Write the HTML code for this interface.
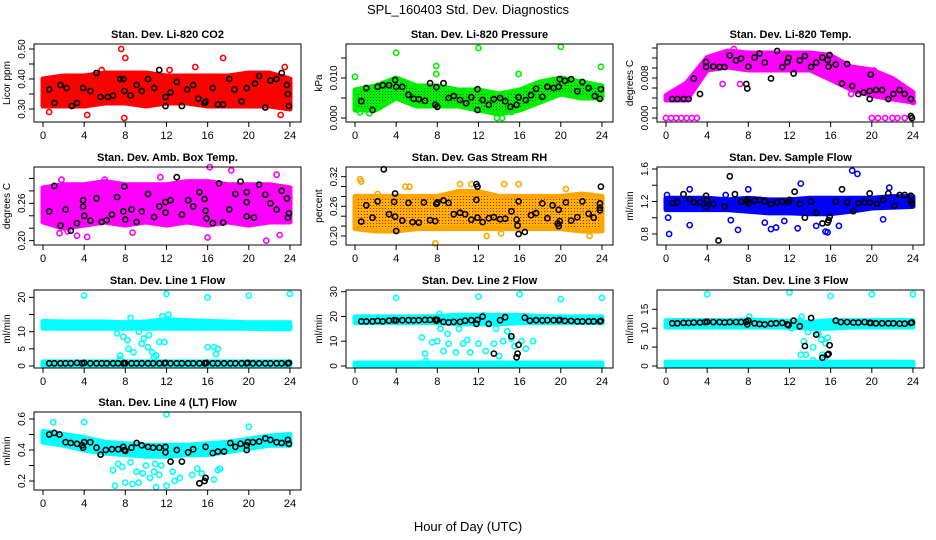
<!DOCTYPE html>
<html><head><meta charset="utf-8">
<style>
html,body{margin:0;padding:0;background:#fff;}
svg{display:block;font-family:"Liberation Sans",sans-serif;}
</style></head>
<body>
<svg id="chart" width="936" height="540" viewBox="0 0 936 540">
<defs>
<pattern id="dotRed" width="3" height="3" patternUnits="userSpaceOnUse"><rect width="3" height="3" fill="#ffb400"/><rect x="1" y="1" width="1" height="1" fill="#ff0000"/></pattern>
<pattern id="dotGreen" width="3" height="3" patternUnits="userSpaceOnUse"><rect width="3" height="3" fill="#00ee00"/><rect x="1" y="1" width="1" height="1" fill="#006600"/></pattern>
</defs>
<text x="468" y="14" text-anchor="middle" font-size="13">SPL_160403  Std. Dev. Diagnostics</text>
<text x="468" y="531" text-anchor="middle" font-size="13">Hour of Day (UTC)</text>
</svg>
<script>
// ---------- data ----------
const hoursBand=[0,2,4,6,8,10,12,14,16,18,20,22,24];
const hoursBlack=[0.6,1.1,1.7,2.2,2.7,3.3,3.8,4.0,4.6,5.2,5.7,6.2,6.8,7.3,7.8,7.9,8.0,8.6,9.1,9.6,10.2,10.7,11.3,11.8,11.9,12.4,13.0,13.5,14.1,14.6,15.2,15.7,15.8,15.9,16.5,17.0,17.6,18.2,18.7,19.3,19.8,19.9,20.4,21.0,21.6,22.1,22.7,23.2,23.8,23.9];
const xTicks=[0,4,8,12,16,20,24];

const co2Lo=[0.31,0.31,0.31,0.32,0.32,0.31,0.32,0.32,0.31,0.31,0.31,0.31,0.30];
const co2Hi=[0.40,0.41,0.41,0.42,0.42,0.42,0.41,0.41,0.41,0.41,0.42,0.42,0.40];
const co2Out=[[7.6,0.50],[8,0.47],[4.3,0.28],[7.9,0.27],[0.6,0.29],[17.5,0.47],[23.1,0.28],[23.5,0.44],[5.7,0.43],[14.8,0.44],[0.1,0.33],[12.3,0.43]];
const co2Black=[[0.6,0.365],[1.1,0.32],[1.7,0.38],[2.3,0.37],[2.8,0.31],[3.3,0.32],[3.9,0.37],[4.6,0.36],[5.2,0.42],[5.6,0.34],[6.3,0.34],[6.8,0.345],[7.5,0.40],[7.8,0.40],[7.9,0.36],[8.5,0.345],[9.1,0.38],[9.6,0.36],[10.2,0.40],[10.8,0.37],[11.3,0.43],[11.9,0.31],[11.9,0.34],[12.4,0.355],[13.0,0.39],[13.5,0.31],[14.0,0.365],[14.6,0.38],[15.1,0.335],[15.7,0.32],[15.8,0.325],[16.5,0.37],[17.0,0.315],[17.5,0.315],[18.1,0.40],[18.6,0.365],[19.3,0.325],[19.8,0.37],[20.6,0.385],[21.0,0.41],[21.6,0.305],[22.1,0.395],[22.7,0.40],[23.2,0.42],[23.7,0.38],[23.8,0.35],[23.9,0.31]];

const presLo=[0.002,0.002,0.005,0.003,0.003,0.003,0.002,0.001,0.002,0.004,0.006,0.005,0.005];
const presHi=[0.007,0.008,0.010,0.008,0.008,0.007,0.007,0.006,0.007,0.009,0.010,0.009,0.008];
const presOut=[[0,0.0103],[4,0.0163],[7.9,0.013],[7.9,0.011],[12,0.0175],[20,0.0178],[23.9,0.0128],[13.8,0],[14.3,0],[15.9,0.011],[1.4,0.0012],[0.5,0.0014],[15.2,0.0015]];
const presBlack=[[0.6,0.0042],[1.1,0.0075],[1.7,0.002],[2.2,0.0078],[2.7,0.0082],[3.3,0.0082],[3.9,0.0095],[4.0,0.0078],[4.6,0.0078],[5.2,0.0058],[5.7,0.0048],[6.2,0.0047],[6.8,0.0043],[7.3,0.0087],[7.8,0.0033],[7.9,0.0077],[8.0,0.0028],[8.6,0.0087],[9.1,0.005],[9.6,0.0055],[10.2,0.0045],[10.8,0.0037],[11.3,0.0052],[11.9,0.002],[11.9,0.0072],[12.4,0.0045],[13.0,0.0033],[13.5,0.0047],[14.1,0.005],[14.6,0.0042],[15.1,0.0028],[15.7,0.0033],[15.9,0.0052],[16.6,0.0045],[17.1,0.0057],[17.6,0.0073],[18.2,0.0053],[18.7,0.0078],[19.3,0.0075],[19.8,0.0078],[19.9,0.0097],[20.4,0.0093],[21.0,0.0097],[21.6,0.0067],[22.1,0.0090],[22.7,0.0075],[23.3,0.0055],[23.8,0.0048],[23.9,0.0072]];

const tempLo=[0.0036,0.0036,0.0096,0.0102,0.0096,0.0096,0.0096,0.0096,0.0077,0.0057,0.0045,0.0038,0.0032];
const tempHi=[0.0045,0.0070,0.0121,0.0134,0.0130,0.0130,0.0130,0.0130,0.0125,0.0102,0.0096,0.0079,0.0051];
const tempOut=[[0,0],[0.5,0],[1,0],[1.5,0],[2,0],[2.5,0],[3,0],[20,0],[20.6,0],[21.3,0],[22,0],[22.5,0],[23.2,0],[23.9,0],[2.6,0.0075],[3.0,0.0085],[7.2,0.0068],[5.5,0.0068],[20.2,0.0095],[18.0,0.0048],[24,0.0032],[6.6,0.0138]];
const tempBlack=[[0.6,0.0038],[1.1,0.0038],[1.7,0.0038],[2.2,0.0038],[2.7,0.0079],[3.3,0.0048],[3.9,0.0102],[3.9,0.0112],[4.6,0.0103],[5.2,0.0102],[5.7,0.0102],[6.2,0.0125],[6.8,0.0115],[7.3,0.0119],[7.8,0.0068],[7.9,0.0059],[8.0,0.0103],[8.6,0.0121],[9.1,0.0129],[9.6,0.0111],[10.2,0.0079],[10.8,0.0134],[11.3,0.0102],[11.8,0.0112],[11.9,0.012],[12.4,0.0089],[13.0,0.0115],[13.5,0.0124],[14.1,0.0102],[14.6,0.0111],[15.2,0.0121],[15.7,0.0116],[15.8,0.0103],[15.9,0.0126],[16.5,0.0107],[17.1,0.0069],[17.6,0.0108],[18.1,0.0064],[18.7,0.0048],[19.2,0.0051],[19.8,0.0054],[19.8,0.0038],[19.9,0.0087],[20.4,0.0056],[21.0,0.0056],[21.6,0.0038],[22.1,0.0048],[22.7,0.0056],[23.2,0.0048],[23.8,0.0038],[23.9,0.0],[23.8,0.0004]];

const boxLo=[0.23,0.22,0.225,0.23,0.225,0.23,0.225,0.23,0.225,0.23,0.225,0.23,0.23];
const boxHi=[0.285,0.29,0.29,0.295,0.29,0.29,0.29,0.295,0.295,0.29,0.29,0.29,0.285];
const boxOut=[[1.6,0.212],[3.3,0.208],[4.3,0.206],[11.4,0.302],[16,0.205],[16.2,0.318],[18.3,0.313],[21.7,0.2],[22.7,0.306],[23,0.209],[2.4,0.215],[1.8,0.298],[6.0,0.298],[8.7,0.213]];
const boxBlack=[[0.6,0.247],[1.1,0.288],[1.7,0.224],[2.2,0.25],[2.7,0.216],[3.3,0.228],[3.9,0.255],[3.9,0.265],[4.0,0.24],[4.6,0.232],[5.2,0.268],[5.7,0.23],[6.2,0.233],[6.7,0.242],[7.2,0.27],[7.8,0.247],[7.9,0.287],[8.0,0.234],[8.6,0.25],[9.1,0.23],[9.6,0.247],[10.2,0.275],[10.8,0.238],[11.3,0.255],[11.9,0.245],[11.9,0.262],[12.4,0.265],[13.0,0.302],[13.5,0.242],[14.1,0.265],[14.6,0.255],[15.2,0.278],[15.7,0.267],[15.8,0.248],[15.9,0.236],[16.5,0.228],[17.1,0.292],[17.5,0.229],[18.1,0.25],[18.7,0.275],[19.2,0.295],[19.8,0.262],[19.8,0.278],[19.8,0.239],[20.5,0.237],[21.0,0.29],[21.6,0.274],[22.1,0.26],[22.7,0.25],[23.2,0.28],[23.7,0.268],[23.8,0.237],[23.9,0.244]];

const rhLo=[0.215,0.21,0.21,0.215,0.215,0.215,0.215,0.215,0.215,0.215,0.215,0.21,0.21];
const rhHi=[0.28,0.28,0.28,0.28,0.28,0.29,0.29,0.28,0.28,0.28,0.28,0.285,0.28];
const rhOut=[[0.5,0.315],[0.6,0.31],[4.9,0.30],[7.8,0.185],[10.2,0.305],[11.3,0.305],[14.5,0.305],[15.9,0.305],[22.8,0.2],[2.2,0.285],[20.5,0.295],[5.3,0.30],[12.8,0.2],[14.2,0.205]];
const rhBlack=[[0.6,0.229],[1.1,0.262],[1.7,0.237],[2.2,0.27],[2.8,0.335],[3.3,0.244],[3.8,0.269],[3.9,0.286],[3.9,0.239],[4.0,0.21],[4.6,0.231],[5.2,0.267],[5.6,0.228],[6.2,0.227],[6.7,0.268],[7.3,0.232],[7.8,0.23],[7.9,0.265],[8.0,0.268],[8.6,0.272],[9.1,0.267],[9.6,0.244],[10.2,0.247],[10.7,0.244],[11.3,0.233],[11.8,0.305],[11.9,0.237],[11.9,0.3],[11.8,0.273],[12.4,0.228],[13.0,0.236],[13.5,0.238],[14.1,0.234],[14.6,0.235],[15.2,0.25],[15.7,0.233],[15.8,0.221],[15.9,0.27],[15.9,0.204],[16.5,0.208],[17.1,0.242],[17.6,0.246],[18.2,0.266],[18.7,0.236],[19.2,0.262],[19.7,0.225],[19.8,0.253],[19.8,0.22],[19.9,0.23],[20.5,0.268],[21.0,0.231],[21.6,0.238],[22.1,0.27],[22.7,0.245],[23.2,0.237],[23.8,0.252],[23.8,0.257],[23.8,0.266],[23.9,0.3]];

const flowLo=[1.1,1.1,1.1,1.1,1.08,1.06,1.06,1.05,1.05,1.08,1.12,1.13,1.14];
const flowHi=[1.24,1.24,1.24,1.22,1.24,1.22,1.22,1.24,1.24,1.24,1.24,1.26,1.26];
const flowOut=[[0.3,0.8],[2.3,1.35],[2.3,0.91],[5.8,1.28],[7.0,0.85],[8,1.35],[9.6,0.94],[10.2,0.86],[10.7,0.88],[12.8,0.87],[13.1,1.42],[14.6,0.9],[15.5,0.83],[15.7,0.82],[16.8,0.9],[18.1,1.58],[18.6,1.54],[21.1,0.98],[21.7,1.37],[6.3,0.97],[0.2,1.0],[0.1,1.28],[11.5,0.96]];
const flowBlack=[[0.6,1.18],[1.1,1.19],[1.7,1.29],[2.3,1.23],[2.7,1.19],[3.3,1.19],[3.9,1.27],[3.9,1.13],[4.0,1.21],[4.6,1.17],[5.1,0.72],[5.7,1.14],[6.2,1.51],[6.7,1.29],[7.3,1.2],[7.8,1.2],[7.9,1.22],[8.0,1.18],[8.6,1.21],[9.1,1.22],[9.6,1.2],[10.2,1.17],[10.8,1.19],[11.3,1.2],[11.9,1.19],[12.0,1.22],[12.5,1.32],[13.0,1.17],[13.5,1.0],[14.1,1.2],[14.6,1.06],[15.2,0.93],[15.7,0.94],[15.8,0.97],[15.9,1.01],[16.5,1.2],[17.1,1.35],[17.6,1.19],[18.2,1.08],[18.7,1.18],[19.3,1.19],[19.8,1.3],[19.8,1.19],[20.5,1.17],[21.1,1.22],[21.6,1.3],[22.2,1.15],[22.7,1.28],[23.2,1.28],[23.8,1.27],[23.8,1.2],[23.9,1.17]];

const line1HiLo=[11,11,11,11,11,11,11,11,11,11,11,10.8,10.8];
const line1HiHi=[13,12.8,12.8,12.8,12.6,12.8,13.5,13.2,13,12.8,12.6,12.6,12.6];
const line1LowLo=[0.2,0.2,0.2,0.2,0.2,0.2,0.2,0.2,0.2,0.2,0.2,0.2,0.2];
const line1LowHi=[1.2,1.2,1.2,1.2,1.2,1.2,1.2,1.2,1.2,1.2,1.2,1.2,1.2];
const line1Out=[[4,20.5],[12,21],[16,20],[20,20.5],[24,21],[7.2,9.5],[7.8,8.5],[8.2,7.5],[8.8,4],[9.3,10],[9.6,6.5],[10.2,5.5],[10.6,4],[11,3],[11.3,7],[11.8,7],[7.5,3],[7.5,2],[8.3,5],[10.3,9],[16,5.5],[16.6,5.5],[17,5],[16.8,3.5],[9.8,8],[8.5,14],[11.6,14.5],[12.2,15],[10.8,2.5]];
const line1Black=[0.8,0.8,0.8,0.8,0.8,0.9,0.8,0.9,0.8,0.8,0.8,0.8,0.8,0.8,0.8,0.9,0.8,0.8,0.8,0.8,0.8,0.8,0.8,0.8,0.9,0.8,0.8,0.8,0.8,0.8,0.8,0.8,0.8,0.9,0.8,0.8,0.8,0.8,0.8,0.8,0.8,0.9,0.8,0.8,0.8,0.8,0.8,0.8,0.8,0.9];

const line2HiLo=[17.5,17.5,17.5,17.5,17.5,17,17,17,17.5,17.5,17.5,17.5,17.5];
const line2HiHi=[19.8,19.8,19.8,19.8,20,20.5,20.5,20.5,20.5,20,19.8,19.8,19.8];
const line2LowLo=[0,0,0,0,0,0,0,0,0,0,0,0,0];
const line2LowHi=[1.2,1.2,1.2,1.2,1.2,1.2,1.2,1.2,1.2,1.2,1.2,1.2,1.2];
const line2Out=[[4,27.5],[12,28],[16,29],[20,27],[24,27.5],[6.5,11.5],[6.8,5],[7.5,9.5],[8,10],[8.3,15],[8.6,6],[9,13],[9.1,9],[9.8,5.5],[10.1,15],[10.5,9],[10.9,10.5],[11.2,5.5],[12,9],[12.7,6],[13.5,9],[13.7,15],[14,4],[14.4,10],[14.8,14],[15.2,11],[15.5,8],[16.2,10],[16.6,7],[17.3,10],[8.2,21],[12.5,20.5],[6.9,2]];
const line2Black=[18,18,18,18.2,18,18.3,18.5,18.4,18.5,18.5,18.4,18.5,18.6,18.6,18.7,18.3,18.6,17.8,17.6,17.8,17.8,18.3,18.5,17,18.6,20,17,5,18.5,19.7,12,3.5,5,8.5,19.5,18.3,18.5,18.4,18.5,18.5,18.4,18.6,18.2,18.2,18,18,18,18,18,18.2];

const line3HiLo=[10.3,10.3,10.3,10.3,10.3,10.3,10.3,10,10,10.3,10.3,10.3,10.3];
const line3HiHi=[12,12,12,12,12.2,12,11.8,11.5,12,12,12,12,12];
const line3LowLo=[0,0,0,0,0,0,0,0,0,0,0,0,0];
const line3LowHi=[1,1,1,1,1,1,1,1,1,1,1,1,1];
const line3Out=[[4,19],[12,19.5],[16,18.5],[20,19],[24,19],[8.1,13],[13,12],[13.2,13],[13.8,9],[13.4,6.5],[13.1,3],[13.6,3],[14.3,5],[14.3,1.5],[14.8,8.5],[15.1,7],[15.2,3],[15.5,6],[15.7,7.5],[15.4,2],[12.2,10]];
const line3Black=[11.3,11.3,11.4,11.4,11.5,11.5,11.6,11.7,11.6,11.6,11.5,11.6,11.6,11.6,11.7,11,12,11.3,11.1,11,11.2,11.3,11.4,11,10.8,12,10.5,5.3,12.7,8.3,2.2,3,3.2,5.5,12,11.6,11.6,11.5,11.5,11.6,11.4,11.4,11.3,11.3,11.3,11.3,11.2,11.2,11.4,11.5];

const line4Lo=[0.45,0.43,0.40,0.38,0.37,0.36,0.36,0.37,0.37,0.39,0.41,0.43,0.43];
const line4Hi=[0.52,0.50,0.48,0.45,0.44,0.43,0.43,0.43,0.44,0.45,0.47,0.49,0.50];
const line4Out=[[1,0.58],[4,0.58],[12,0.63],[20,0.55],[6.8,0.27],[7,0.17],[7.3,0.31],[7.7,0.29],[8,0.19],[8.7,0.18],[9.3,0.19],[8.5,0.32],[9.7,0.25],[10,0.3],[10.4,0.22],[10.8,0.26],[11,0.16],[11.3,0.24],[11.5,0.3],[12,0.17],[12.6,0.26],[12.8,0.2],[13.3,0.22],[14.5,0.24],[15,0.28],[15.4,0.25],[16.6,0.21],[17,0.27],[9.1,0.26],[10.9,0.31],[17.2,0.28]];
const line4Black=[[0.6,0.5],[1.1,0.51],[1.6,0.5],[2.2,0.45],[2.7,0.445],[3.3,0.44],[3.8,0.43],[3.9,0.415],[4.0,0.45],[4.6,0.45],[5.2,0.415],[5.6,0.37],[6.1,0.4],[6.7,0.405],[7.3,0.405],[7.8,0.42],[7.9,0.4],[8.0,0.395],[8.6,0.415],[9.1,0.445],[9.6,0.43],[10.2,0.42],[10.7,0.415],[11.3,0.415],[11.9,0.385],[11.9,0.42],[12.4,0.325],[13.0,0.4],[13.5,0.325],[14.1,0.385],[14.6,0.405],[15.2,0.185],[15.7,0.2],[15.8,0.22],[15.8,0.42],[16.5,0.38],[17.0,0.39],[17.6,0.39],[18.2,0.445],[18.7,0.42],[19.2,0.44],[19.8,0.43],[19.8,0.4],[19.9,0.45],[20.4,0.45],[21.0,0.455],[21.6,0.475],[22.1,0.465],[22.7,0.45],[23.2,0.445],[23.8,0.465],[23.9,0.44]];

const panelTitles=["Stan. Dev. Li-820 CO2","Stan. Dev. Li-820 Pressure","Stan. Dev. Li-820 Temp.","Stan. Dev. Amb. Box Temp.","Stan. Dev. Gas Stream RH","Stan. Dev. Sample Flow","Stan. Dev. Line 1 Flow","Stan. Dev. Line 2 Flow","Stan. Dev. Line 3 Flow","Stan. Dev. Line 4 (LT) Flow"];
const yTitles=["Licor ppm","kPa","degrees C","degrees C","percent","ml/min","ml/min","ml/min","ml/min","ml/min"];
const yTicks=[[0.30,0.35,0.40,0.45,0.50],[0,0.005,0.010,0.015],[0,0.002,0.004,0.006,0.008,0.010,0.012,0.014],[0.20,0.22,0.24,0.26,0.28,0.30],[0.20,0.22,0.24,0.26,0.28,0.30,0.32],[0.8,1.0,1.2,1.4,1.6],[0,5,10,15,20],[0,10,20,30],[0,5,10,15],[0.2,0.3,0.4,0.5,0.6]];
const yTickLabels=[["0.30","","0.40","","0.50"],["0.000","","0.010",""],["0.000","","","","0.008","","",""],["0.20","","","0.26","",""],["0.20","","","0.26","","","0.32"],["0.8","","1.2","","1.6"],["0","5","10","","20"],["0","10","20","30"],["0","5","10","15"],["0.2","","0.4","","0.6"]];

// ---------- layout ----------
const colLeft=[34,346,657], rowTop=[44,167,290,412], PW=267, PH=78;
const yDomains=[[0.2567,0.5167],[-0.001,0.0185],[-0.0008,0.0148],[0.193,0.3184],[0.1817,0.3396],[0.6646,1.6246],[-0.58,22.13],[-0.81,30.68],[-0.53,20.1],[0.142,0.645]];
const colors=["#ff0000","url(#dotGreen)","#ff00ff","#ff00ff","url(#dotRed)","#0000ff","#00ffff","#00ffff","#00ffff","#00ffff"];
const strokeCol=["#ff0000","#00ee00","#ff00ff","#ff00ff","#ffa500","#0000ff","#00ffff","#00ffff","#00ffff","#00ffff"];
const bands=[[[co2Lo,co2Hi]],[[presLo,presHi]],[[tempLo,tempHi]],[[boxLo,boxHi]],[[rhLo,rhHi]],[[flowLo,flowHi]],[[line1HiLo,line1HiHi],[line1LowLo,line1LowHi]],[[line2HiLo,line2HiHi],[line2LowLo,line2LowHi]],[[line3HiLo,line3HiHi],[line3LowLo,line3LowHi]],[[line4Lo,line4Hi]]];
const outs=[co2Out,presOut,tempOut,boxOut,rhOut,flowOut,line1Out,line2Out,line3Out,line4Out];
const blacks=[co2Black,presBlack,tempBlack,boxBlack,rhBlack,flowBlack,line1Black,line2Black,line3Black,line4Black];
const slugs=["co2","pressure","li820-temp","box-temp","gas-rh","sample-flow","line1-flow","line2-flow","line3-flow","line4-flow"];

const NS="http://www.w3.org/2000/svg";
const svg=document.getElementById('chart');
function mk(tag,attrs,parent){const e=document.createElementNS(NS,tag);for(const k in attrs)e.setAttribute(k,attrs[k]);(parent||svg).appendChild(e);return e;}
function xScale(p,h){return colLeft[p%3]+9+h*10.29;}
function yScale(p,v){const d=yDomains[p];const top=rowTop[Math.floor(p/3)];return top+(d[1]-v)/(d[1]-d[0])*PH;}

for(let p=0;p<10;p++){
  const L=colLeft[p%3], T=rowTop[Math.floor(p/3)];
  const g=mk('g',{});
  
  
  // bands
  bands[p].forEach((b,bi)=>{
    const pts=[];
    hoursBand.forEach((h,i)=>pts.push(xScale(p,h).toFixed(1)+','+yScale(p,b[0][i]).toFixed(1)));
    for(let i=hoursBand.length-1;i>=0;i--)pts.push(xScale(p,hoursBand[i]).toFixed(1)+','+yScale(p,b[1][i]).toFixed(1));
    const poly=mk('polygon',{points:pts.join(' '),fill:colors[p],stroke:strokeCol[p],'stroke-width':5,'stroke-linejoin':'round'},g);
    
    
  });
  // outliers
  outs[p].forEach(o=>{
    const c=mk('circle',{cx:xScale(p,o[0]).toFixed(1),cy:yScale(p,o[1]).toFixed(1),r:2.6,fill:'none',stroke:strokeCol[p],'stroke-width':1.6},g);
    
    
  });
  // black points
  blacks[p].forEach((b,i)=>{
    const h=Array.isArray(b)?b[0]:hoursBlack[i];
    const v=Array.isArray(b)?b[1]:b;
    const c=mk('circle',{cx:xScale(p,h).toFixed(1),cy:yScale(p,v).toFixed(1),r:2.6,fill:'none',stroke:'#000','stroke-width':1.6},g);
    
    
  });
  // box
  const box=mk('rect',{x:L,y:T,width:PW,height:PH,fill:'none',stroke:'#000','stroke-width':1},g);
  
  
  // title
  const t=mk('text',{x:L+PW/2,y:T-6,'text-anchor':'middle','font-size':11,'font-weight':'bold'},g);
  t.textContent=panelTitles[p];
  
  
  // x ticks
  xTicks.forEach(h=>{
    const x=xScale(p,h);
    mk('line',{x1:x,x2:x,y1:T+PH,y2:T+PH+5,stroke:'#000','stroke-width':1},g);
    const lt=mk('text',{x:x,y:T+PH+17,'text-anchor':'middle','font-size':11},g);
    lt.textContent=String(h);
    
    
  });
  // y ticks
  yTicks[p].forEach((v,i)=>{
    const y=yScale(p,v);
    mk('line',{x1:L-5,x2:L,y1:y,y2:y,stroke:'#000','stroke-width':1},g);
    if(yTickLabels[p][i]){
      const lt=mk('text',{x:L-9,y:y,'text-anchor':'middle','font-size':10,transform:'rotate(-90 '+(L-9)+' '+y+')'},g);
      lt.textContent=yTickLabels[p][i];
      
      
    }
  });
  const yt=mk('text',{x:L-24,y:T+PH/2,'text-anchor':'middle','font-size':10,transform:'rotate(-90 '+(L-24)+' '+(T+PH/2)+')'},g);
  yt.textContent=yTitles[p];
  
  
}
</script>
</body></html>
